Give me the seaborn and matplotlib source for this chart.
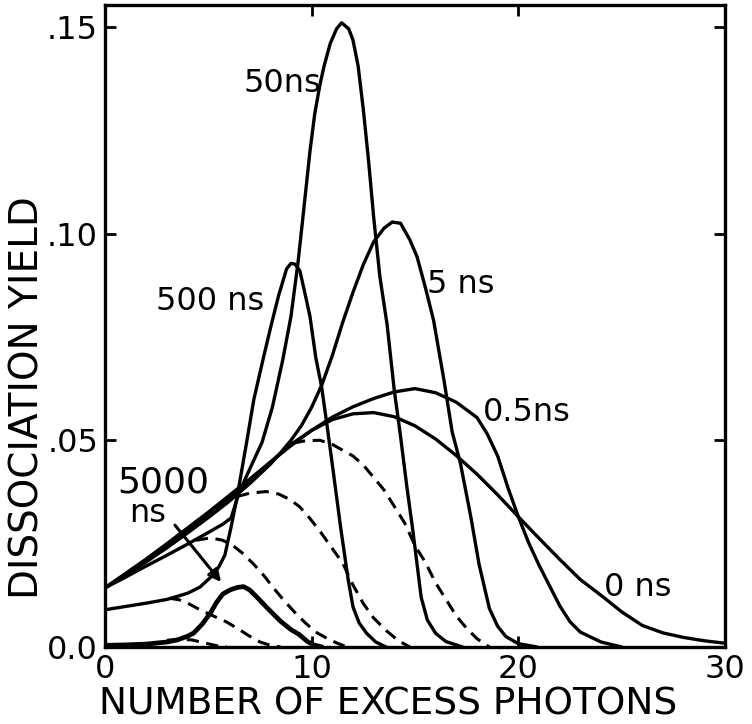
import matplotlib
matplotlib.use("Agg")
import matplotlib.pyplot as plt
import seaborn as sns

# curves: x = number of excess photons, y = dissociation yield
x_0ns = [0, 1, 2, 3, 4, 5, 6, 7, 8, 9, 10, 11, 12, 13, 14, 15, 16, 17, 18, 19, 20, 21, 22, 23, 24, 25, 26, 27, 28, 29, 30]
y_0ns = [0.0143, 0.0176, 0.0210, 0.0246, 0.0283, 0.0321, 0.0361, 0.0403, 0.0447, 0.0490, 0.0524, 0.0550, 0.0564, 0.0567, 0.0557,
         0.0535, 0.0503, 0.0463, 0.0418, 0.0368, 0.0315, 0.0263, 0.0212, 0.0163, 0.0125, 0.0085, 0.0052, 0.0034, 0.0023, 0.0015, 0.0009]

x_05ns = [0, 1, 2, 3, 4, 5, 6, 7, 8, 9, 10, 11, 12, 13, 14, 15, 16, 17, 18, 18.5, 19, 19.5, 20, 20.5, 21, 21.5, 22, 22.5, 23, 24, 25]
y_05ns = [0.0143, 0.0178, 0.0213, 0.0250, 0.0288, 0.0326, 0.0366, 0.0406, 0.0447, 0.0487, 0.0524, 0.0556, 0.0581, 0.0601, 0.0617,
          0.0625, 0.0615, 0.0592, 0.0555, 0.0515, 0.0462, 0.0385, 0.0315, 0.0252, 0.0198, 0.0149, 0.0100, 0.0061, 0.0036, 0.0012, 0.0]

x_5ns = [0, 1, 2, 3, 4, 5, 6, 7, 8, 8.5, 9, 9.5, 10, 10.5, 11, 11.5, 12, 12.5, 13, 13.5, 13.9, 14.3, 14.75, 15.1, 15.5, 15.9,
         16.4, 16.8, 17.2, 17.7, 18.1, 18.6, 19.0, 19.4, 20.0, 20.9]
y_5ns = [0.0143, 0.0174, 0.0206, 0.0240, 0.0276, 0.0313, 0.0352, 0.0395, 0.0442, 0.0470, 0.0500, 0.0535, 0.0580, 0.0635, 0.0705,
         0.0785, 0.0858, 0.0925, 0.0980, 0.1013, 0.1028, 0.1025, 0.0985, 0.0944, 0.0870, 0.0790, 0.0646, 0.0520, 0.0444, 0.0315,
         0.0200, 0.0093, 0.0050, 0.0025, 0.0008, 0.0]

x_50ns = [0, 1, 2, 3, 4, 5, 5.7, 6.1, 6.5, 7.0, 7.6, 8.1, 8.6, 9.0, 9.34, 9.6, 9.92, 10.15, 10.4, 10.6, 10.9, 11.2, 11.45,
          11.8, 12.0, 12.25, 12.5, 12.75, 13.0, 13.3, 13.65, 14.0, 14.3, 14.6, 14.9, 15.1, 15.3, 15.6, 16.0, 16.5, 17.3]
y_50ns = [0.0143, 0.0169, 0.0196, 0.0222, 0.0249, 0.0277, 0.0297, 0.0312, 0.0375, 0.0430, 0.0495, 0.0580, 0.0694, 0.0800,
          0.0930, 0.1050, 0.1200, 0.1290, 0.1360, 0.1405, 0.1460, 0.1495, 0.1510, 0.1495, 0.1468, 0.1405, 0.1300, 0.1178,
          0.1040, 0.0896, 0.0780, 0.0620, 0.0510, 0.0390, 0.0280, 0.0200, 0.0120, 0.0065, 0.0033, 0.0013, 0.0]

x_500ns = [0, 1, 2, 3, 4, 4.6, 5.1, 5.5, 5.8, 6.1, 6.4, 6.87, 7.2, 7.64, 8.0, 8.4, 8.79, 9.0, 9.2, 9.43, 9.7, 9.92, 10.2,
           10.48, 10.73, 11.03, 11.4, 11.77, 12.0, 12.3, 12.66, 13.1, 13.6]
y_500ns = [0.0090, 0.0098, 0.0106, 0.0115, 0.0130, 0.0145, 0.0168, 0.0193, 0.0222, 0.0290, 0.0365, 0.0500, 0.0598, 0.0694,
           0.0770, 0.0850, 0.0915, 0.0928, 0.0926, 0.0910, 0.0850, 0.0799, 0.0700, 0.0630, 0.0541, 0.0430, 0.0290, 0.0162,
           0.0097, 0.0058, 0.0033, 0.0012, 0.0]

x_5000ns = [0, 1, 2, 3, 3.5, 4.0, 4.3, 4.7, 5.1, 5.4, 5.7, 6.05, 6.4, 6.7, 7.0, 7.4, 7.8, 8.5, 9.0, 9.4, 9.8, 10.1, 10.5]
y_5000ns = [0.0004, 0.0005, 0.0007, 0.0012, 0.0017, 0.0026, 0.0034, 0.0055, 0.0082, 0.0108, 0.0128, 0.0138, 0.0144, 0.0146,
            0.0138, 0.0118, 0.0097, 0.0062, 0.0042, 0.0030, 0.0013, 0.0005, 0.0]

# dashed component curves
x_d0 = [3.0, 3.6, 4.2, 4.8, 5.4, 5.9]
y_d0 = [0.0016, 0.0019, 0.0017, 0.0010, 0.0003, 0.0]
x_d1 = [3.1, 3.6, 4.0, 4.6, 5.2, 5.9, 6.5, 7.0, 7.5, 8.0, 8.5]
y_d1 = [0.0118, 0.0114, 0.0106, 0.0090, 0.0076, 0.0060, 0.0042, 0.0026, 0.0012, 0.0004, 0.0]
x_d2 = [4.4, 5.1, 5.7, 6.2, 6.7, 7.2, 7.7, 8.2, 8.7, 9.2, 9.7, 10.2, 10.7, 11.2, 11.7]
y_d2 = [0.0258, 0.0264, 0.0258, 0.0245, 0.0225, 0.0200, 0.0172, 0.0140, 0.0110, 0.0083, 0.0058, 0.0036, 0.0022, 0.0010, 0.0]
x_d3 = [6.4, 7.0, 7.8, 8.4, 8.9, 9.4, 9.9, 10.4, 10.9, 11.5, 12.0, 12.5, 13.0, 13.6, 14.2, 14.75]
y_d3 = [0.0364, 0.0372, 0.0376, 0.0370, 0.0358, 0.0340, 0.0312, 0.0280, 0.0245, 0.0203, 0.0150, 0.0105, 0.0070, 0.0040,
        0.0015, 0.0]
x_d4 = [9.1, 9.7, 10.4, 11.0, 11.5, 12.0, 12.5, 13.0, 13.5, 14.0, 14.5, 15.0, 15.5, 16.0, 16.5, 17.0, 17.5, 18.0, 18.6]
y_d4 = [0.0493, 0.0499, 0.0500, 0.0490, 0.0476, 0.0462, 0.0440, 0.0410, 0.0380, 0.0340, 0.0300, 0.0245, 0.0205, 0.0155,
        0.0115, 0.0075, 0.0045, 0.0020, 0.0]

solid = [(x_0ns, y_0ns), (x_05ns, y_05ns), (x_5ns, y_5ns), (x_50ns, y_50ns), (x_500ns, y_500ns)]
dashed = [(x_d0, y_d0), (x_d1, y_d1), (x_d2, y_d2), (x_d3, y_d3), (x_d4, y_d4)]

# curve labels
labels = ["0 ns", "0.5ns", "5 ns", "50ns", "500 ns"]
label_x = [25.8, 20.4, 17.2, 8.56, 5.08]
label_y = [0.0145, 0.0566, 0.0878, 0.1364, 0.0835]

sns.set_style("ticks")
plt.rcParams["font.family"] = ["DejaVu Sans"]
plt.rcParams.update({"text.color": "k", "axes.labelcolor": "k", "xtick.color": "k", "ytick.color": "k"})

fig = plt.figure(figsize=(7.52, 7.24), dpi=100)
ax = fig.add_axes([0.1396, 0.1064, 0.8245, 0.8867])

for xs, ys in solid:
    sns.lineplot(x=xs, y=ys, ax=ax, color="k", lw=2.4, estimator=None)
for xs, ys in dashed:
    sns.lineplot(x=xs, y=ys, ax=ax, color="k", lw=2.2, estimator=None, linestyle=(0, (4, 2.5)))
sns.lineplot(x=x_5000ns, y=y_5000ns, ax=ax, color="k", lw=3.4, estimator=None)

for t, lx, ly in zip(labels, label_x, label_y):
    ax.text(lx, ly, t, fontsize=23, ha="center", va="center")
ax.text(2.81, 0.0397, "5000", fontsize=26, ha="center", va="center")
ax.text(2.08, 0.0322, "ns", fontsize=23, ha="center", va="center")
ax.annotate("", xy=(5.7, 0.0152), xytext=(3.3, 0.0300),
            arrowprops=dict(arrowstyle="-|>", color="k", lw=2.2, mutation_scale=18))

ax.set_xlim(0, 30)
ax.set_ylim(0, 0.1553)
ax.set_xticks([0, 10, 20, 30])
ax.set_xticklabels(["0", "10", "20", "30"])
ax.set_yticks([0, 0.05, 0.10, 0.15])
ax.set_yticklabels(["0.0", ".05", ".10", ".15"])
ax.tick_params(direction="in", length=8, width=2, labelsize=23, top=True, right=True, pad=5)
for s in ax.spines.values():
    s.set_linewidth(2.4)
    s.set_color("k")

ax.set_xlabel("NUMBER OF EXCESS PHOTONS", fontsize=27)
ax.set_ylabel("DISSOCIATION YIELD", fontsize=28)
ax.xaxis.set_label_coords(0.456, -0.062)
ax.yaxis.set_label_coords(-0.094, 0.389)

fig.savefig("out.png", dpi=100)
